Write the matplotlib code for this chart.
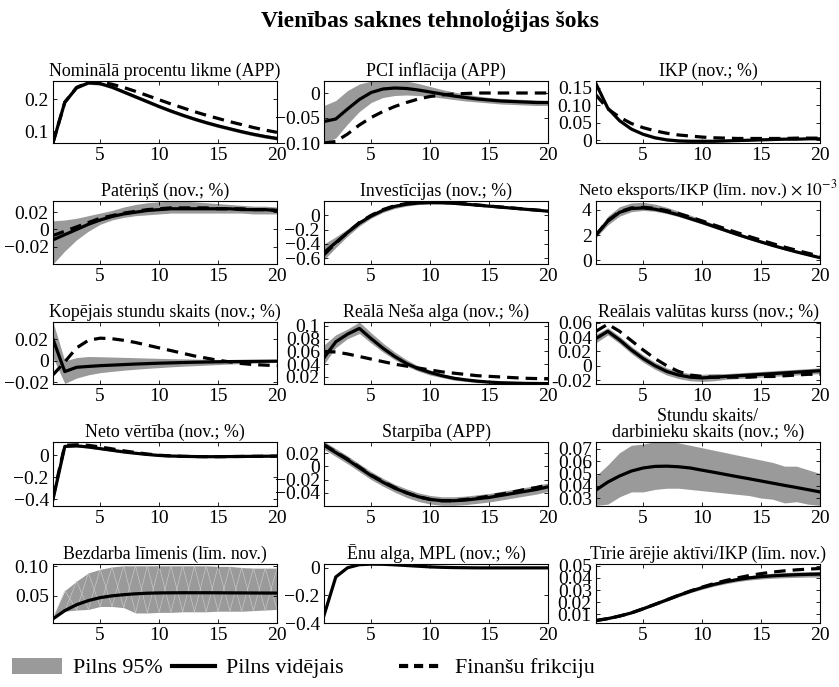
import matplotlib
matplotlib.use("Agg")
import matplotlib.pyplot as plt
from matplotlib.patches import Patch
from matplotlib.lines import Line2D

plt.rcParams['font.family'] = ['Liberation Serif', 'DejaVu Serif']
plt.rcParams['mathtext.fontset'] = 'stix'

x = list(range(1, 21))

# 1 Nominālā procentu likme
nom_mean = [0.065,0.19,0.235,0.25,0.248,0.237,0.222,0.207,0.192,0.177,0.163,0.150,0.138,0.127,0.117,0.108,0.099,0.091,0.084,0.078]
nom_ff   = [0.065,0.19,0.236,0.252,0.253,0.246,0.236,0.224,0.211,0.198,0.185,0.173,0.161,0.150,0.140,0.130,0.121,0.112,0.104,0.097]
nom_lo   = [0.063,0.186,0.231,0.246,0.243,0.232,0.217,0.202,0.187,0.172,0.158,0.145,0.133,0.122,0.112,0.103,0.094,0.086,0.079,0.073]
nom_hi   = [0.067,0.194,0.239,0.254,0.253,0.242,0.228,0.213,0.198,0.183,0.169,0.156,0.144,0.133,0.123,0.114,0.105,0.097,0.090,0.084]
# 2 PCI inflācija
pci_mean = [-0.057,-0.052,-0.032,-0.013,0.001,0.008,0.01,0.009,0.006,0.002,-0.002,-0.006,-0.009,-0.012,-0.014,-0.016,-0.017,-0.018,-0.019,-0.019]
pci_ff   = [-0.1,-0.097,-0.082,-0.064,-0.049,-0.037,-0.027,-0.019,-0.012,-0.007,-0.004,-0.002,-0.001,0.0,0.0,0.0,0.0,0.0,0.0,0.0]
pci_lo   = [-0.1,-0.09,-0.062,-0.037,-0.019,-0.009,-0.005,-0.004,-0.005,-0.007,-0.010,-0.013,-0.016,-0.018,-0.020,-0.022,-0.023,-0.024,-0.025,-0.025]
pci_hi   = [-0.025,-0.015,0.005,0.018,0.024,0.026,0.026,0.024,0.019,0.013,0.007,0.002,-0.002,-0.006,-0.009,-0.011,-0.012,-0.013,-0.014,-0.015]
# 3 IKP
ikp_mean = [0.162,0.092,0.056,0.032,0.017,0.007,0.001,-0.002,-0.003,-0.003,-0.003,-0.002,-0.001,0.0,0.001,0.002,0.003,0.003,0.004,0.004]
ikp_ff   = [0.13,0.09,0.066,0.048,0.036,0.027,0.020,0.015,0.012,0.009,0.007,0.006,0.005,0.005,0.005,0.005,0.005,0.006,0.006,0.006]
ikp_lo   = [0.155,0.087,0.052,0.029,0.014,0.004,-0.002,-0.005,-0.006,-0.006,-0.005,-0.004,-0.003,-0.002,-0.001,0.0,0.001,0.001,0.002,0.002]
ikp_hi   = [0.168,0.097,0.06,0.036,0.02,0.01,0.004,0.001,0.0,0.0,-0.001,0.0,0.001,0.002,0.003,0.004,0.005,0.005,0.006,0.006]
# 4 Patēriņš
pat_mean = [-0.012,-0.006,0.0,0.006,0.011,0.015,0.018,0.020,0.022,0.023,0.024,0.024,0.024,0.024,0.024,0.024,0.023,0.023,0.023,0.022]
pat_ff   = [-0.007,-0.002,0.003,0.008,0.013,0.016,0.019,0.021,0.023,0.024,0.025,0.025,0.025,0.025,0.024,0.024,0.024,0.023,0.023,0.022]
pat_lo   = [-0.04,-0.025,-0.012,-0.002,0.006,0.011,0.014,0.016,0.017,0.018,0.019,0.019,0.019,0.019,0.019,0.019,0.019,0.018,0.018,0.018]
pat_hi   = [0.01,0.011,0.013,0.016,0.019,0.022,0.026,0.029,0.031,0.032,0.033,0.033,0.032,0.031,0.030,0.029,0.028,0.027,0.027,0.026]
# 5 Investīcijas
inv_mean = [-0.52,-0.38,-0.24,-0.11,-0.01,0.07,0.125,0.155,0.172,0.178,0.176,0.168,0.156,0.142,0.128,0.114,0.1,0.086,0.072,0.058]
inv_ff   = [-0.55,-0.39,-0.24,-0.1,0.0,0.08,0.135,0.165,0.18,0.185,0.183,0.174,0.16,0.145,0.13,0.116,0.102,0.088,0.074,0.06]
inv_lo   = [-0.62,-0.45,-0.29,-0.15,-0.04,0.04,0.095,0.13,0.15,0.158,0.158,0.152,0.142,0.129,0.116,0.103,0.089,0.076,0.062,0.045]
inv_hi   = [-0.4,-0.3,-0.19,-0.07,0.02,0.1,0.15,0.18,0.195,0.2,0.196,0.186,0.172,0.157,0.141,0.126,0.111,0.096,0.081,0.065]
# 6 Neto eksports/IKP (x 1e-3)
nx_mean = [2.0,3.1,3.8,4.1,4.15,4.05,3.85,3.6,3.3,3.0,2.68,2.36,2.04,1.74,1.45,1.17,0.91,0.66,0.43,0.2]
nx_ff   = [2.0,3.15,3.85,4.15,4.2,4.12,3.94,3.7,3.42,3.12,2.8,2.49,2.18,1.88,1.59,1.31,1.04,0.79,0.55,0.33]
nx_lo   = [1.8,2.8,3.5,3.85,3.95,3.88,3.7,3.46,3.17,2.87,2.56,2.25,1.94,1.64,1.36,1.09,0.83,0.59,0.36,0.14]
nx_hi   = [2.2,3.5,4.25,4.55,4.6,4.45,4.2,3.9,3.58,3.23,2.88,2.53,2.19,1.86,1.55,1.25,0.97,0.71,0.48,0.26]
# 7 Kopējais stundu skaits
hrs_mean = [0.02,-0.01,-0.006,-0.0052,-0.0045,-0.004,-0.0035,-0.003,-0.0026,-0.0022,-0.0019,-0.0016,-0.0013,-0.0011,-0.0009,-0.0007,-0.0006,-0.0005,-0.0004,-0.0003]
hrs_ff   = [-0.013,-0.001,0.012,0.019,0.021,0.0205,0.019,0.017,0.0145,0.012,0.0095,0.007,0.0045,0.0025,0.0005,-0.001,-0.0025,-0.0035,-0.004,-0.0045]
hrs_lo   = [0.003,-0.021,-0.016,-0.013,-0.011,-0.0098,-0.0087,-0.0078,-0.007,-0.0063,-0.0056,-0.005,-0.0045,-0.004,-0.0035,-0.003,-0.0026,-0.0022,-0.0018,-0.0015]
hrs_hi   = [0.036,0.0,0.003,0.004,0.0038,0.0035,0.0032,0.0029,0.0026,0.0023,0.002,0.0018,0.0016,0.0014,0.0013,0.0012,0.0011,0.001,0.0009,0.0008]
# 8 Reālā Neša alga
wage_mean = [0.05,0.075,0.087,0.096,0.08,0.065,0.052,0.041,0.033,0.027,0.022,0.018,0.0155,0.0135,0.012,0.011,0.0105,0.01,0.0098,0.0096]
wage_ff   = [0.06,0.059,0.056,0.052,0.048,0.044,0.040,0.037,0.034,0.031,0.028,0.026,0.024,0.022,0.021,0.020,0.019,0.018,0.0175,0.017]
wage_lo   = [0.04,0.066,0.08,0.088,0.073,0.059,0.047,0.037,0.029,0.023,0.019,0.015,0.013,0.011,0.0105,0.0095,0.009,0.0088,0.0086,0.0085]
wage_hi   = [0.07,0.086,0.095,0.106,0.089,0.073,0.059,0.047,0.037,0.031,0.025,0.021,0.018,0.016,0.0135,0.0125,0.012,0.0113,0.011,0.0107]
# 9 Reālais valūtas kurss
rer_mean = [0.038,0.048,0.036,0.022,0.01,0.0,-0.008,-0.013,-0.016,-0.017,-0.016,-0.015,-0.014,-0.013,-0.012,-0.011,-0.01,-0.009,-0.008,-0.007]
rer_ff   = [0.048,0.058,0.048,0.035,0.022,0.01,0.0,-0.008,-0.013,-0.015,-0.016,-0.016,-0.016,-0.016,-0.015,-0.015,-0.014,-0.013,-0.012,-0.012]
rer_lo   = [0.032,0.043,0.031,0.017,0.005,-0.005,-0.013,-0.018,-0.021,-0.022,-0.021,-0.019,-0.018,-0.017,-0.016,-0.015,-0.014,-0.013,-0.012,-0.011]
rer_hi   = [0.044,0.053,0.041,0.027,0.015,0.005,-0.003,-0.008,-0.011,-0.012,-0.011,-0.011,-0.01,-0.009,-0.008,-0.007,-0.006,-0.005,-0.004,-0.003]
# 10 Neto vērtība
nw_mean = [-0.4,0.08,0.085,0.075,0.06,0.045,0.03,0.018,0.007,-0.002,-0.007,-0.01,-0.012,-0.013,-0.013,-0.012,-0.011,-0.01,-0.009,-0.008]
nw_ff   = [-0.38,0.09,0.095,0.09,0.075,0.058,0.04,0.025,0.011,0.0,-0.006,-0.01,-0.012,-0.013,-0.013,-0.012,-0.011,-0.01,-0.009,-0.008]
nw_lo   = [-0.42,0.07,0.075,0.065,0.05,0.036,0.022,0.01,0.0,-0.008,-0.012,-0.015,-0.017,-0.018,-0.018,-0.017,-0.016,-0.015,-0.014,-0.013]
nw_hi   = [-0.37,0.09,0.095,0.085,0.07,0.054,0.038,0.026,0.014,0.004,-0.002,-0.005,-0.007,-0.008,-0.008,-0.007,-0.006,-0.005,-0.004,-0.003]
# 11 Starpība
spr_mean = [0.032,0.021,0.01,-0.002,-0.014,-0.024,-0.033,-0.04,-0.046,-0.05,-0.052,-0.052,-0.051,-0.049,-0.047,-0.044,-0.041,-0.038,-0.035,-0.031]
spr_ff   = [0.033,0.022,0.011,-0.001,-0.013,-0.023,-0.032,-0.04,-0.046,-0.05,-0.052,-0.052,-0.05,-0.048,-0.045,-0.042,-0.039,-0.035,-0.032,-0.028]
spr_lo   = [0.026,0.015,0.004,-0.008,-0.02,-0.03,-0.039,-0.047,-0.053,-0.057,-0.059,-0.059,-0.058,-0.056,-0.054,-0.051,-0.048,-0.045,-0.042,-0.038]
spr_hi   = [0.038,0.027,0.016,0.004,-0.008,-0.018,-0.027,-0.034,-0.04,-0.044,-0.046,-0.046,-0.045,-0.043,-0.041,-0.038,-0.035,-0.032,-0.029,-0.025]
# 12 Stundu skaits / darbinieku skaits
hpw_mean = [0.0365,0.043,0.048,0.052,0.0545,0.0558,0.056,0.0555,0.0545,0.0527,0.051,0.0492,0.0474,0.0457,0.0439,0.0421,0.0403,0.0386,0.0368,0.035]
hpw_lo   = [0.024,0.025,0.031,0.035,0.035,0.037,0.038,0.038,0.037,0.036,0.035,0.034,0.033,0.032,0.030,0.029,0.026,0.027,0.025,0.024]
hpw_hi   = [0.048,0.057,0.067,0.073,0.074,0.076,0.076,0.075,0.073,0.071,0.069,0.067,0.065,0.063,0.061,0.059,0.056,0.056,0.053,0.050]
# 13 Bezdarba līmenis
une_mean = [0.011,0.025,0.035,0.042,0.047,0.050,0.052,0.0535,0.0545,0.055,0.0552,0.0553,0.0553,0.0553,0.0552,0.0551,0.055,0.0549,0.0548,0.0547]
une_lo   = [0.012,0.024,0.026,0.027,0.032,0.032,0.030,0.021,0.021,0.022,0.022,0.023,0.023,0.023,0.024,0.024,0.024,0.025,0.026,0.027]
une_hi   = [0.015,0.059,0.075,0.089,0.095,0.099,0.101,0.101,0.101,0.101,0.101,0.101,0.101,0.101,0.100,0.100,0.098,0.097,0.097,0.097]
# 14 Ēnu alga, MPL
shw_mean = [-0.345,-0.067,0.0,0.022,0.026,0.025,0.021,0.016,0.011,0.006,0.003,0.001,0.0,-0.001,-0.001,-0.001,-0.001,-0.001,-0.001,-0.001]
# 15 Tīrie ārējie aktīvi/IKP
nfa_mean = [0.005,0.0066,0.0087,0.0113,0.0147,0.0183,0.022,0.0257,0.0291,0.0321,0.0347,0.0369,0.0387,0.0401,0.0411,0.0418,0.0423,0.0427,0.043,0.0432]
nfa_ff   = [0.005,0.0066,0.0087,0.0113,0.0147,0.0183,0.022,0.0258,0.0293,0.0325,0.0354,0.0379,0.0401,0.042,0.0436,0.0449,0.0459,0.0467,0.0473,0.0478]
nfa_lo   = [0.0045,0.0061,0.0081,0.0106,0.0139,0.0174,0.021,0.0245,0.0278,0.0307,0.0332,0.0353,0.037,0.0383,0.0392,0.0398,0.0402,0.0405,0.0407,0.0408]
nfa_hi   = [0.0055,0.0072,0.0094,0.0121,0.0156,0.0193,0.0231,0.027,0.0305,0.0336,0.0363,0.0386,0.0405,0.042,0.0431,0.0439,0.0445,0.0449,0.0452,0.0455]

titles = ["Nominālā procentu likme (APP)", "PCI inflācija (APP)", "IKP (nov.; %)",
          "Patēriņš (nov.; %)", "Investīcijas (nov.; %)", r"Neto eksports/IKP (līm. nov.) $\times\,10^{-3}$",
          "Kopējais stundu skaits (nov.; %)", "Reālā Neša alga (nov.; %)", "Reālais valūtas kurss (nov.; %)",
          "Neto vērtība (nov.; %)", "Starpība (APP)", "Stundu skaits/\ndarbinieku skaits (nov.; %)",
          "Bezdarba līmenis (līm. nov.)", "Ēnu alga, MPL (nov.; %)", "Tīrie ārējie aktīvi/IKP (līm. nov.)"]

xticks = [5, 10, 15, 20]
legend_labels = ["Pilns 95%", "Pilns vidējais", "Finanšu frikciju"]
main_title = "Vienības saknes tehnoloģijas šoks"

M = "\u2212"
panels = [
    (nom_mean, nom_lo, nom_hi, nom_ff, (0.064, 0.256), [0.1, 0.2], ["0.1", "0.2"]),
    (pci_mean, pci_lo, pci_hi, pci_ff, (-0.1, 0.024), [-0.1, -0.05, 0], [M+"0.10", M+"0.05", "0"]),
    (ikp_mean, ikp_lo, ikp_hi, ikp_ff, (-0.008, 0.17), [0, 0.05, 0.1, 0.15], ["0", "0.05", "0.10", "0.15"]),
    (pat_mean, pat_lo, pat_hi, pat_ff, (-0.04, 0.033), [-0.02, 0, 0.02], [M+"0.02", "0", "0.02"]),
    (inv_mean, inv_lo, inv_hi, inv_ff, (-0.68, 0.2), [-0.6, -0.4, -0.2, 0], [M+"0.6", M+"0.4", M+"0.2", "0"]),
    (nx_mean, nx_lo, nx_hi, nx_ff, (-0.3, 4.7), [0, 2, 4], ["0", "2", "4"]),
    (hrs_mean, hrs_lo, hrs_hi, hrs_ff, (-0.0215, 0.036), [-0.02, 0, 0.02], [M+"0.02", "0", "0.02"]),
    (wage_mean, wage_lo, wage_hi, wage_ff, (0.009, 0.106), [0.02, 0.04, 0.06, 0.08, 0.1], ["0.02", "0.04", "0.06", "0.08", "0.1"]),
    (rer_mean, rer_lo, rer_hi, rer_ff, (-0.0255, 0.061), [-0.02, 0, 0.02, 0.04, 0.06], ["-0.02", "0", "0.02", "0.04", "0.06"]),
    (nw_mean, nw_lo, nw_hi, nw_ff, (-0.46, 0.12), [-0.4, -0.2, 0], [M+"0.4", M+"0.2", "0"]),
    (spr_mean, spr_lo, spr_hi, spr_ff, (-0.06, 0.037), [-0.04, -0.02, 0, 0.02], [M+"0.04", M+"0.02", "0", "0.02"]),
    (hpw_mean, hpw_lo, hpw_hi, None, (0.0235, 0.0757), [0.03, 0.04, 0.05, 0.06, 0.07], ["0.03", "0.04", "0.05", "0.06", "0.07"]),
    (une_mean, une_lo, une_hi, None, (0.004, 0.104), [0.05, 0.1], ["0.05", "0.10"]),
    (shw_mean, None, None, None, (-0.4, 0.027), [-0.4, -0.2, 0], [M+"0.4", M+"0.2", "0"]),
    (nfa_mean, nfa_lo, nfa_hi, nfa_ff, (0.003, 0.0515), [0.01, 0.02, 0.03, 0.04, 0.05], ["0.01", "0.02", "0.03", "0.04", "0.05"]),
]

W, H = 839, 687
fig = plt.figure(figsize=(W/100, H/100), dpi=100)
col_left = [53, 324, 596]
col_w = 224
rows = [(81, 143), (201, 264), (322, 384), (442, 506), (564, 623)]
band_color = "#9a9a9a"

for i, (mean, lo, hi, ff, ylim, yt, ytl) in enumerate(panels):
    r, c = divmod(i, 3)
    top, bot = rows[r]
    ax = fig.add_axes([col_left[c]/W, 1 - bot/H, col_w/W, (bot - top)/H])
    if lo is not None:
        ax.fill_between(x, lo, hi, color=band_color, linewidth=0, zorder=1)
        if i == 12:
            zz = [lo[k] if k % 2 == 0 else hi[k] for k in range(len(x))]
            ax.plot(x, zz, color="#d0d0d0", lw=0.4, zorder=1.5)
            zz2 = [hi[k] if k % 2 == 0 else lo[k] for k in range(len(x))]
            ax.plot(x, zz2, color="#d0d0d0", lw=0.4, zorder=1.5)
    ax.plot(x, mean, color="black", lw=2.3, zorder=3)
    if ff is not None:
        ax.plot(x, ff, color="black", lw=2.3, dashes=(3.6, 2.2), zorder=4)
    ax.set_xlim(1, 20)
    ax.set_ylim(*ylim)
    ax.set_xticks(xticks)
    ax.set_xticklabels([str(t) for t in xticks])
    ax.set_yticks(yt)
    ax.set_yticklabels(ytl)
    ax.tick_params(direction="in", length=3, width=0.6, top=True, right=True,
                   labelsize=14, pad=3)
    for s in ax.spines.values():
        s.set_linewidth(0.8)
    ax.set_title(titles[i], fontsize=12.9 if i != 5 else 12.6, pad=4, linespacing=0.85)

fig.text(0.513, 1 - 20/H, main_title, ha="center", va="center",
         fontsize=17, fontweight="bold")

handles = [Patch(facecolor=band_color, edgecolor="none"),
           Line2D([], [], color="black", lw=3),
           Line2D([], [], color="black", lw=3, dashes=(2.2, 1.4))]
leg_x = [10, 170, 397]
leg_hl = [2.25, 1.95, 2.05]
for h, lab, lx, hl in zip(handles, legend_labels, leg_x, leg_hl):
    fig.legend([h], [lab], loc="center left", bbox_to_anchor=(lx/W, 1 - 668/H),
               frameon=False, fontsize=15.8, handlelength=hl, handleheight=0.75,
               handletextpad=0.5, borderpad=0.1, borderaxespad=0)

fig.savefig("out.png", dpi=100)
